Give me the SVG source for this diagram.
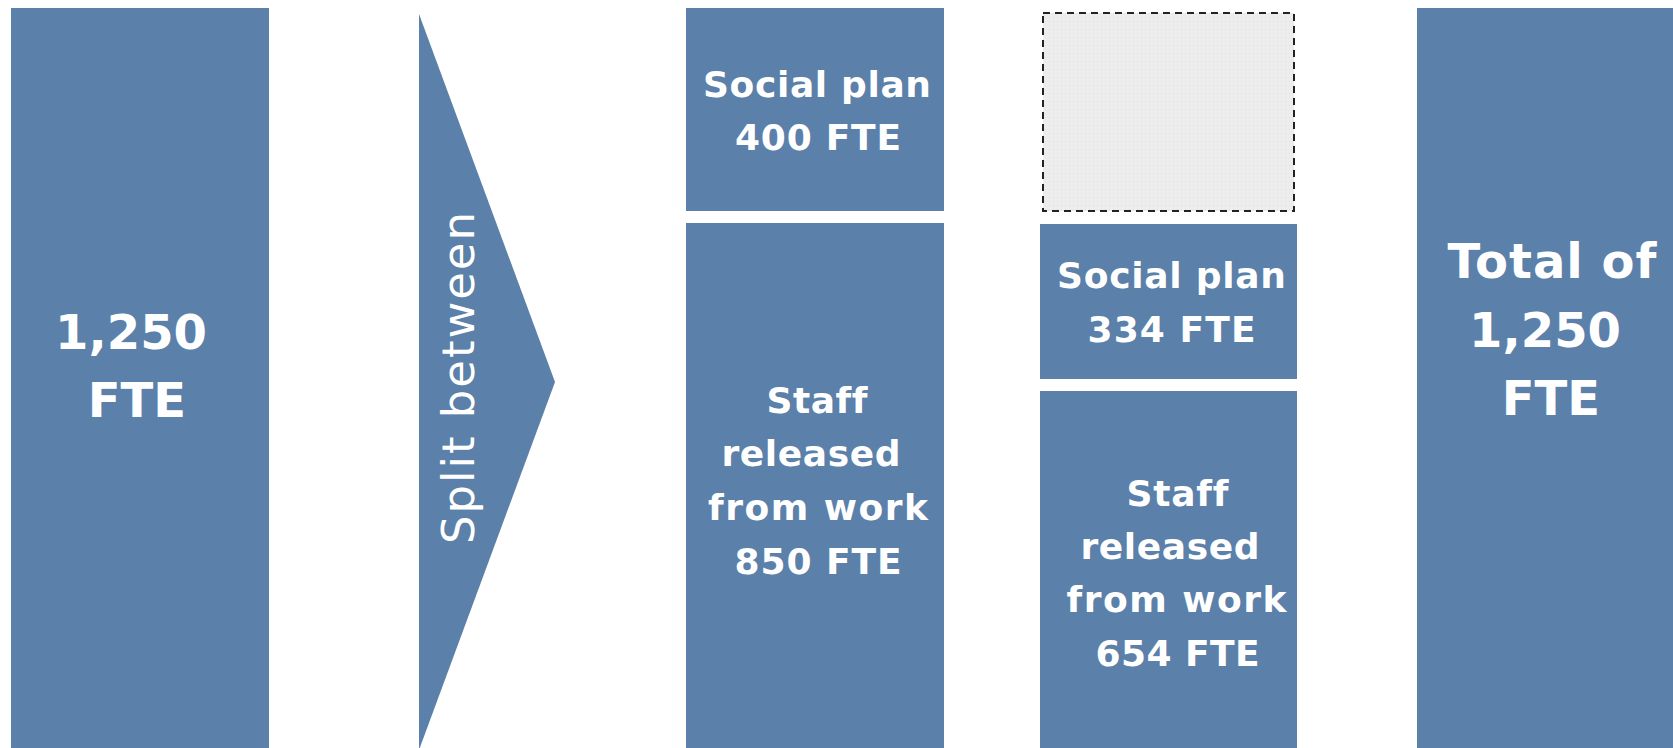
<svg xmlns="http://www.w3.org/2000/svg" width="1673" height="748" viewBox="0 0 1673 748">
<defs>
<style>
.blk{fill:#5B80A9;}
text{font-variant-ligatures:none;}
.big{font-family:"DejaVu Sans","Liberation Sans",sans-serif;font-weight:bold;font-size:48px;fill:#fff;text-anchor:middle;}
.mid{font-family:"DejaVu Sans","Liberation Sans",sans-serif;font-weight:bold;font-size:36px;fill:#fff;text-anchor:middle;}
.rot{font-family:"DejaVu Sans","Liberation Sans",sans-serif;font-size:45px;fill:#fff;text-anchor:middle;}
</style>
<pattern id="dots" width="4" height="4" patternUnits="userSpaceOnUse">
<rect width="4" height="4" fill="#EDEDED"/>
<rect x="1" y="1" width="1" height="1" fill="#E2E2E2"/>
</pattern>
</defs>
<rect width="1673" height="748" fill="#fff"/>
<g id="connectors"></g>
<g id="start">
<rect class="blk" x="11" y="8" width="258" height="745"/>
<text class="big" x="131" y="349" textLength="152">1,250</text>
<text class="big" x="137" y="417">FTE</text>
</g>
<g id="split">
<polygon class="blk" points="419,14 555,382 419,750"/>
<text class="rot" transform="translate(474,378) rotate(-90)" x="0" y="0" textLength="332" lengthAdjust="spacing">Split between</text>
</g>
<g id="social400">
<rect class="blk" x="686" y="8" width="258" height="203"/>
<text class="mid" x="817" y="97" textLength="228">Social plan</text>
<text class="mid" x="818" y="150" textLength="166">400 FTE</text>
</g>
<g id="staff850">
<rect class="blk" x="686" y="223" width="258" height="530"/>
<text class="mid" x="817" y="413" textLength="101">Staff</text>
<text class="mid" x="811" y="466" textLength="179">released</text>
<text class="mid" x="818" y="520" textLength="220">from work</text>
<text class="mid" x="818" y="574" textLength="167">850 FTE</text>
</g>
<g id="placeholder">
<rect x="1043" y="13" width="251" height="198" fill="url(#dots)" stroke="#222" stroke-width="2" stroke-dasharray="7 5"/>
</g>
<g id="social334">
<rect class="blk" x="1040" y="224" width="257" height="155"/>
<text class="mid" x="1171.5" y="288" textLength="229">Social plan</text>
<text class="mid" x="1171.5" y="342" textLength="168">334 FTE</text>
</g>
<g id="staff654">
<rect class="blk" x="1040" y="391" width="257" height="362"/>
<text class="mid" x="1177.5" y="506" textLength="102">Staff</text>
<text class="mid" x="1170" y="559" textLength="179">released</text>
<text class="mid" x="1176.5" y="612" textLength="220">from work</text>
<text class="mid" x="1177.5" y="666" textLength="164">654 FTE</text>
</g>
<g id="total">
<rect class="blk" x="1417" y="8" width="262" height="745"/>
<text class="big" x="1552" y="278" textLength="209">Total of</text>
<text class="big" x="1545" y="347" textLength="152">1,250</text>
<text class="big" x="1551" y="415">FTE</text>
</g>
</svg>
